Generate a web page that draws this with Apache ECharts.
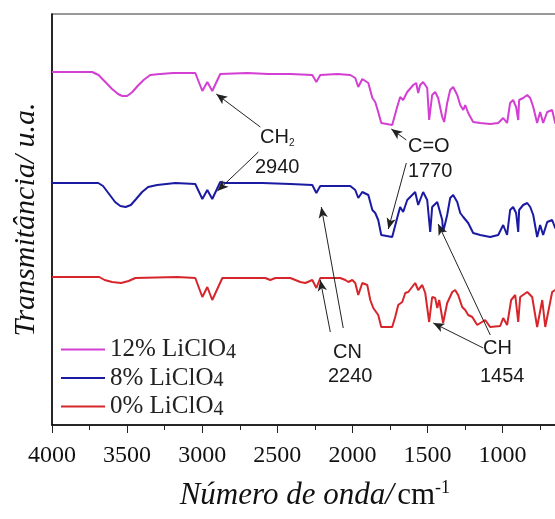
<!DOCTYPE html>
<html>
<head>
<meta charset="utf-8">
<script src="https://cdn.jsdelivr.net/npm/echarts@6/dist/echarts.min.js"></script>
<style>
html,body{margin:0;padding:0;background:#fff;}
#chart{width:555px;height:519px;}
</style>
</head>
<body>
<div id="chart"></div>
<script>
// Wavenumber (cm-1) vs transmittance (arbitrary units, offset spectra)
var seriesNames = ['12% LiClO4', '8% LiClO4', '0% LiClO4'];
var xTicks = [1000, 1500, 2000, 2500, 3000, 3500, 4000];

var spec12 = [
[4000,353],[3732,353],[3690,350],[3645,343],[3600,336],[3560,331],[3532,329],[3500,329],[3465,333],[3430,339],
[3390,345],[3346,350],[3280,351],[3192,352],[3046,352],
[2999,334],[2966,343],[2933,334],[2880,351],[2700,352],[2560,351],[2413,351],[2267,350],[2240,343],[2214,350],
[2100,351],[2014,350],[1981,347],[1961,338],[1934,346],[1894,342],[1867,327],[1848,323],[1828,313],[1808,302],
[1735,300],[1702,318],[1682,328],[1662,325],[1635,333],[1595,340],[1575,342],[1562,332],[1549,340],[1529,343],
[1502,337],[1489,305],[1469,330],[1449,333],[1429,327],[1402,308],[1389,303],[1369,322],[1349,335],[1329,338],
[1302,330],[1282,320],[1262,315],[1249,320],[1229,312],[1196,303],[1149,302],[1083,301],[1029,302],[996,307],
[970,302],[950,322],[930,325],[910,318],[896,305],[890,325],[863,327],[836,330],[816,327],[796,318],
[770,302],[750,313],[730,302],[703,313],[670,315],[650,302],[630,300]
];
var spec8 = [
[4000,242],[3692,242],[3660,239],[3620,231],[3580,223],[3545,219],[3510,218],[3475,220],[3440,226],[3400,233],
[3360,238],[3300,240],[3179,242],[3046,241],
[2999,226],[2966,235],[2933,226],[2880,243],[2846,242],[2600,242],[2413,241],[2267,240],[2240,232],[2214,239],
[2014,239],[1981,235],[1961,227],[1934,233],[1894,230],[1867,215],[1848,212],[1828,205],[1808,190],[1735,188],
[1702,207],[1682,218],[1662,213],[1635,225],[1582,233],[1562,220],[1529,233],[1502,225],[1482,193],[1469,218],
[1435,223],[1402,205],[1396,193],[1369,210],[1349,227],[1329,230],[1302,223],[1282,212],[1262,208],[1249,210],
[1229,202],[1196,192],[1149,190],[1083,188],[1029,190],[996,200],[970,190],[950,215],[930,218],[910,212],
[896,193],[890,215],[863,220],[836,222],[816,218],[796,210],[770,188],[750,200],[730,190],[703,203],
[670,205],[650,197],[630,195]
];
var spec0 = [
[4000,148],[3685,148],[3650,145],[3600,143],[3540,142],[3490,144],[3445,147],[3166,148],[3046,147],[2999,128],[2966,138],
[2933,125],[2866,147],[2580,147],[2547,145],[2513,147],[2413,147],[2347,143],[2313,142],[2267,145],[2240,137],
[2214,147],[2081,147],[2047,145],[2027,143],[2001,145],[1981,142],[1961,130],[1934,142],[1901,140],[1881,125],
[1861,117],[1828,110],[1808,98],[1735,98],[1715,108],[1695,120],[1668,123],[1648,132],[1628,133],[1582,142],
[1562,135],[1535,140],[1515,132],[1489,103],[1469,128],[1449,127],[1435,117],[1422,125],[1396,102],[1369,122],
[1335,133],[1316,135],[1296,130],[1269,118],[1249,115],[1229,110],[1202,108],[1169,100],[1116,105],[1083,98],
[1016,99],[996,107],[970,100],[943,125],[916,130],[896,103],[883,128],[836,133],[803,128],[770,98],
[736,125],[716,98],[670,133],[650,135],[630,132]
];

// Annotation arrows: [fromWavenumber, fromT, toWavenumber, toT]
var arrows = [
[2613,298, 2906,331],
[2626,273, 2899,234],
[1641,285, 1741,296],
[1641,262, 1761,196],
[2061,97, 2207,218],
[2147,93, 2214,145],
[1082,90, 1429,201],
[1129,77, 1462,102]
];

var colors = ['#d23fd2', '#1a1aa3', '#d7262b'];
var serif = '"Liberation Serif","Times New Roman",serif';
var sans = '"Liberation Sans",Arial,sans-serif';

var chart = echarts.init(document.getElementById('chart'), null, {renderer:'canvas'});

function annText(left, top, text, rich) {
  return {type:'text', left:left, top:top, silent:true,
    style:{text:text, fill:'#1a1a1a', font:'20px ' + sans, rich: rich}};
}
var subRich = {a:{fontFamily:sans, fontSize:20, color:'#1a1a1a', lineHeight:22},
               s:{fontFamily:sans, fontSize:10, color:'#1a1a1a', lineHeight:10, verticalAlign:'bottom'}};

var markData = arrows.map(function(a){
  return [{coord:[a[0],a[1]]},{coord:[a[2],a[3]]}];
});

var option = {
  backgroundColor:'#fff',
  animation:false,
  grid:{left:52, top:14, width:525.7, height:411, show:true, borderColor:'#777', borderWidth:1.5,
        backgroundColor:'transparent', containLabel:false, outerBoundsMode:'none'},
  legend:{
    orient:'vertical', left:61, top:337, padding:0, itemGap:3,
    itemWidth:44, itemHeight:2, icon:'rect',
    data:seriesNames,
    formatter:function(n){ return '{a|' + n.slice(0,-1) + '}{s|' + n.slice(-1) + '}'; },
    textStyle:{fontFamily:serif, fontSize:25, color:'#222', padding:[0,0,0,0],
      rich:{a:{fontFamily:serif, fontSize:25, color:'#222', lineHeight:26},
            s:{fontFamily:serif, fontSize:20, color:'#222', lineHeight:14, verticalAlign:'bottom'}}}
  },
  xAxis:{
    type:'value', inverse:true, min:500, max:4000, interval:500,
    axisLine:{show:true, onZero:false, lineStyle:{color:'#000', width:1.5}},
    axisTick:{show:true, length:8, lineStyle:{color:'#222'}},
    minorTick:{show:true, splitNumber:2, length:5, lineStyle:{color:'#222'}},
    splitLine:{show:false},
    axisLabel:{fontFamily:serif, fontSize:24, color:'#111', margin:19,
      formatter:function(v){ return xTicks.indexOf(v) >= 0 ? String(v) : ''; }},
    name:'{i|Número de onda/} {u|cm}{sup|-1}',
    nameLocation:'middle', nameGap:54,
    nameTextStyle:{rich:{
      i:{fontFamily:serif, fontStyle:'italic', fontSize:31, color:'#111', lineHeight:34},
      u:{fontFamily:serif, fontSize:31, color:'#111', lineHeight:34},
      sup:{fontFamily:serif, fontSize:18, color:'#111', lineHeight:18, verticalAlign:'top'}}}
  },
  yAxis:{
    type:'value', min:0, max:411,
    axisLine:{show:true, lineStyle:{color:'#000', width:1.5}},
    axisTick:{show:false}, axisLabel:{show:false}, splitLine:{show:false},
    name:'Transmitância/ u.a.', nameLocation:'middle', nameGap:11, nameRotate:90,
    nameTextStyle:{fontFamily:serif, fontStyle:'italic', fontSize:30, color:'#111'}
  },
  series:[
    {name:seriesNames[0], type:'line', data:spec12, symbol:'none', lineStyle:{color:colors[0], width:2}, itemStyle:{color:colors[0]}, z:3},
    {name:seriesNames[1], type:'line', data:spec8, symbol:'none', lineStyle:{color:colors[1], width:2}, itemStyle:{color:colors[1]}, z:3},
    {name:seriesNames[2], type:'line', data:spec0, symbol:'none', lineStyle:{color:colors[2], width:2}, itemStyle:{color:colors[2]}, z:3},
    {name:'ann', type:'line', data:[], symbol:'none', z:5,
     markLine:{silent:true, animation:false, symbol:['none','arrow'], symbolSize:[7,11],
       lineStyle:{color:'#222', width:1, type:'solid'}, label:{show:false},
       emphasis:{disabled:true}, data:markData}}
  ],
  graphic:[
    annText(260, 127, '{a|CH}{s|2}', subRich),
    annText(255, 157, '2940'),
    annText(408, 136, 'C=O'),
    annText(408, 161, '1770'),
    annText(333, 342, 'CN'),
    annText(328, 366, '2240'),
    annText(483, 338, 'CH'),
    annText(480, 366, '1454')
  ]
};
chart.setOption(option);
</script>
</body>
</html>
